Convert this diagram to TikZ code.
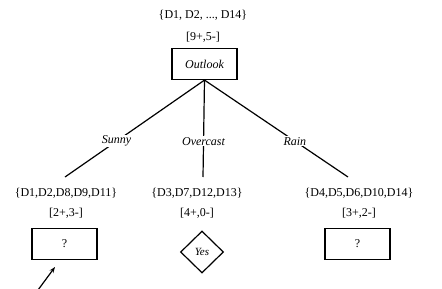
\documentclass[tikz,border=0pt]{standalone}
\usepackage{fontspec}
\setmainfont{Liberation Serif}
\usetikzlibrary{shapes.geometric, arrows.meta}
\tikzset{
    knoten/.style={draw, line width=1.2pt, minimum width=65pt, minimum height=31pt, inner sep=0pt, font=\fontsize{12}{14}\selectfont},
    blatt/.style={draw, diamond, line width=1.2pt, minimum width=43pt, minimum height=42pt, inner sep=0pt},
    menge/.style={font=\fontsize{12}{14}\selectfont, inner sep=0pt},
    zweig/.style={line width=1.2pt},
    wert/.style={font=\fontsize{12}{14}\selectfont\itshape, fill=white, inner sep=1pt}
}

\begin{document}
\begin{tikzpicture}[x=1pt, y=-1pt]

  % Rahmen
  \useasboundingbox (0,0) rectangle (442,289);

  % Wurzel
  \node[menge] (alle) at (203,15) {\{D1, D2, ..., D14\}};
  \node[menge] (zalle) at (203,37) {[9+,5-]};
  \node[knoten] (outlook) at (204.5,64) {\itshape Outlook};

  % Kinder
  \node[menge] (msunny) at (66,193) {\{D1,D2,D8,D9,D11\}};
  \node[menge] (zsunny) at (66,213) {[2+,3-]};
  \node[knoten] (sunny) at (64.5,244) {?};

  \node[menge] (mover) at (197,193) {\{D3,D7,D12,D13\}};
  \node[menge] (zover) at (197,213) {[4+,0-]};
  \node[blatt, font=\fontsize{11}{13}\selectfont\itshape] (yes) at (202,252) {Yes};

  \node[menge] (mrain) at (359,193) {\{D4,D5,D6,D10,D14\}};
  \node[menge] (zrain) at (359,213) {[3+,2-]};
  \node[knoten] (rain) at (357.5,244) {?};

  % Zweige
  \coordinate (ende1) at (65,177);
  \coordinate (ende2) at (203,177);
  \coordinate (ende3) at (348,177);
  \draw[zweig] (outlook.south) -- (ende1) node[wert, pos=0.63] {Sunny};
  \draw[zweig] (outlook.south) -- (ende2) node[wert, pos=0.63] {Overcast};
  \draw[zweig] (outlook.south) -- (ende3) node[wert, pos=0.63] {Rain};

  % Pfeil
  \coordinate (pfeil) at (38,290);
  \coordinate (spitze) at (55,267);
  \draw[line width=1.2pt, -{Stealth[length=6pt]}] (pfeil) -- (spitze);

\end{tikzpicture}
\end{document}
